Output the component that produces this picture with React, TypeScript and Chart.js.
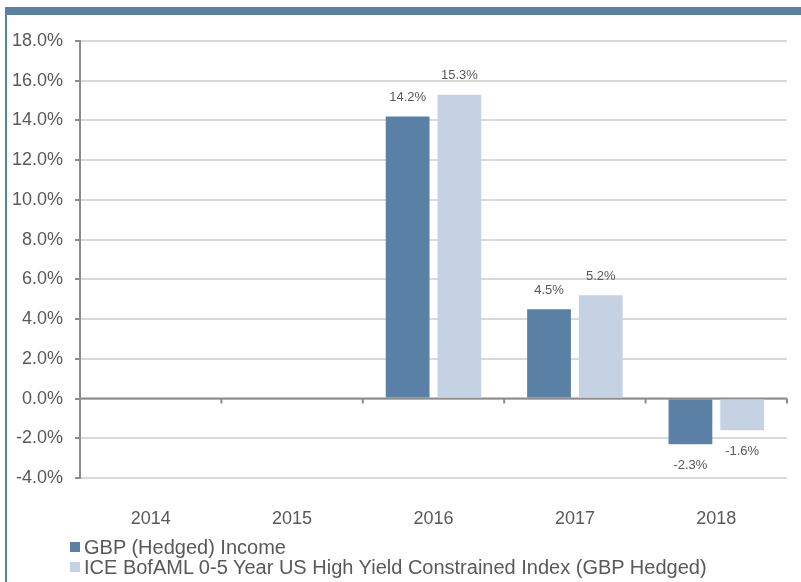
import React, { useEffect, useRef } from "react";
import { Chart, registerables } from "chart.js";

Chart.register(...registerables);

const categories = ["2014", "2015", "2016", "2017", "2018"];
const seriesNames = [
  "GBP (Hedged) Income",
  "ICE BofAML 0-5 Year US High Yield Constrained Index (GBP Hedged)",
];
const fundValues: (number | null)[] = [null, null, 14.2, 4.5, -2.3];
const indexValues: (number | null)[] = [null, null, 15.3, 5.2, -1.6];
const seriesColors = ["#5B80A5", "#C5D2E4"];
const yMin = -4;
const yMax = 18;
const yStep = 2;

const FONT = "'Liberation Sans', Arial, sans-serif";
const TEXT = "#595959";

const zeroLinePlugin = {
  id: "zeroLine",
  beforeDatasetsDraw(chart: any) {
    const { ctx, chartArea, scales } = chart;
    const y = scales.y.getPixelForValue(0);
    const n = categories.length;
    ctx.save();
    ctx.strokeStyle = "#8C8C8C";
    ctx.lineWidth = 2;
    ctx.beginPath();
    ctx.moveTo(chartArea.left, y);
    ctx.lineTo(chartArea.right, y);
    for (let i = 0; i <= n; i++) {
      const x = chartArea.left + (i * (chartArea.right - chartArea.left)) / n;
      ctx.moveTo(x, y);
      ctx.lineTo(x, y + 5);
    }
    ctx.stroke();
    ctx.restore();
  },
};

const valueLabelPlugin = {
  id: "valueLabels",
  afterDatasetsDraw(chart: any) {
    const { ctx } = chart;
    ctx.save();
    ctx.font = `13px ${FONT}`;
    ctx.fillStyle = TEXT;
    ctx.textAlign = "center";
    ctx.textBaseline = "middle";
    chart.data.datasets.forEach((ds: any, di: number) => {
      const meta = chart.getDatasetMeta(di);
      meta.data.forEach((el: any, i: number) => {
        const v = ds.data[i];
        if (v === null || v === undefined) return;
        const label = v.toFixed(1) + "%";
        const y = v >= 0 ? el.y - 19 : el.y + 21;
        ctx.fillText(label, el.x, y);
      });
    });
    ctx.restore();
  },
};

export default function App() {
  const canvasRef = useRef<HTMLCanvasElement | null>(null);

  useEffect(() => {
    document.body.style.margin = "0";
    const canvas = canvasRef.current;
    if (!canvas) return;
    const chart = new Chart(canvas, {
      type: "bar",
      data: {
        labels: categories,
        datasets: [
          {
            label: seriesNames[0],
            data: fundValues,
            backgroundColor: seriesColors[0],
            categoryPercentage: 0.732,
            barPercentage: 0.846,
          },
          {
            label: seriesNames[1],
            data: indexValues,
            backgroundColor: seriesColors[1],
            categoryPercentage: 0.732,
            barPercentage: 0.846,
          },
        ],
      },
      options: {
        responsive: false,
        animation: false,
        layout: { padding: { left: 0, top: 41, right: 14, bottom: 0 } },
        plugins: {
          legend: { display: false },
          tooltip: { enabled: false },
        },
        scales: {
          x: {
            grid: { display: false, drawTicks: false },
            border: { display: false },
            ticks: {
              color: TEXT,
              font: { family: FONT, size: 18 },
              padding: 30,
            },
            afterFit(scale: any) {
              scale.height = 104;
            },
          },
          y: {
            min: yMin,
            max: yMax,
            ticks: {
              stepSize: yStep,
              color: TEXT,
              font: { family: FONT, size: 18 },
              padding: 12,
              callback: (v: any) => Number(v).toFixed(1) + "%",
            },
            grid: {
              color: "#D9D9D9",
              lineWidth: 2,
              tickLength: 5,
              tickColor: "#8C8C8C",
              tickWidth: 2,
            },
            border: { display: true, color: "#8C8C8C", width: 2 },
            afterFit(scale: any) {
              scale.width = 80;
            },
          },
        },
      },
      plugins: [zeroLinePlugin, valueLabelPlugin],
    });
    return () => chart.destroy();
  }, []);

  return (
    <div style={{ position: "relative", width: 801, height: 582, background: "#fff", overflow: "hidden" }}>
      <canvas ref={canvasRef} width={801} height={582} style={{ position: "absolute", left: 0, top: 0 }} />
      <div style={{ position: "absolute", left: 6, top: 7, width: 795, height: 8, background: seriesColors[0] }} />
      <div style={{ position: "absolute", left: 5, top: 7, width: 2, height: 575, background: seriesColors[0] }} />
      <div
        style={{
          position: "absolute",
          left: 70,
          top: 537,
          fontFamily: FONT,
          fontSize: 20,
          color: TEXT,
          lineHeight: "20px",
        }}
      >
        {seriesNames.map((name, i) => (
          <div key={name} style={{ display: "flex", alignItems: "center", whiteSpace: "nowrap", height: 20 }}>
            <span style={{ display: "inline-block", width: 10, height: 10, background: seriesColors[i], marginRight: 4, flex: "none" }} />
            <span>{name}</span>
          </div>
        ))}
      </div>
    </div>
  );
}
